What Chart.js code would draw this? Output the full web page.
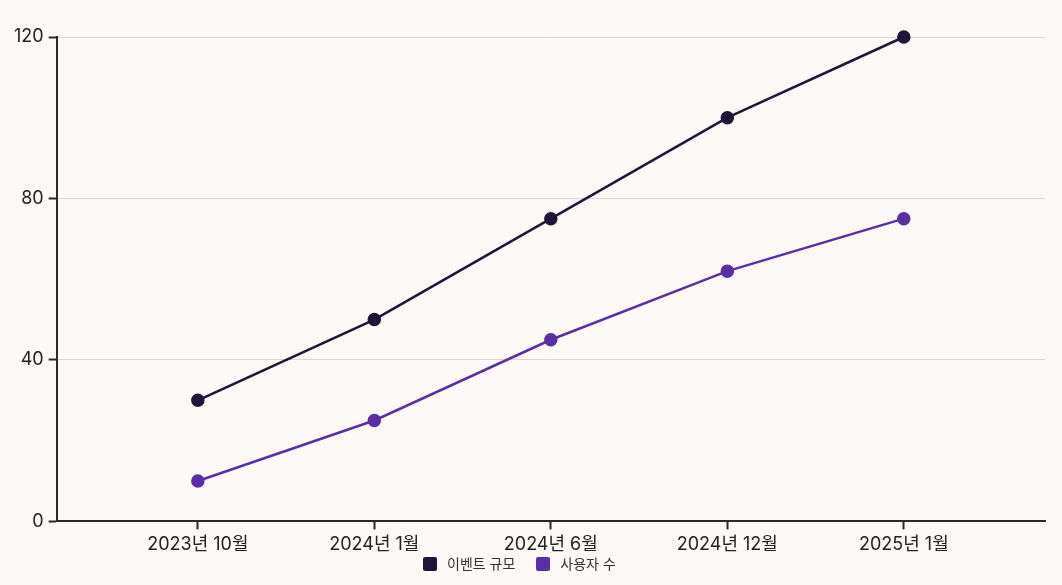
<!DOCTYPE html>
<html>
<head>
<meta charset="utf-8">
<script src="https://cdn.jsdelivr.net/npm/chart.js@4"></script>
<style>
  html, body { margin: 0; padding: 0; background: #fdf9f6; }
  #wrap { position: relative; width: 1062px; height: 585px; }
  #leyenda {
    position: absolute; left: 423px; top: 555px;
    display: flex; gap: 21px; align-items: center;
    font-family: Inter, 'Noto Sans CJK KR', sans-serif; font-size: 14px; color: #333;
  }
  #leyenda .item { display: flex; align-items: center; gap: 10px; line-height: 18px; }
  #leyenda .caja { width: 14px; height: 14px; border-radius: 2px; }
</style>
</head>
<body>
<div id="wrap"><canvas id="grafico"></canvas><div id="leyenda"></div></div>
<script>
const etiquetas = ['2023년 10월', '2024년 1월', '2024년 6월', '2024년 12월', '2025년 1월']
const eventoScale = [30, 50, 75, 100, 120]
const usuarios = [10, 25, 45, 62, 75]
const yTicks = [0, 40, 80, 120]

const fuente = "Inter, 'Noto Sans CJK KR', sans-serif"
const ejeColor = '#2a2a2a'

const toPoints = (arr) => arr.map((v, i) => ({ x: i, y: v }))

const datasets = [
    {
        label: '이벤트 규모',
        data: toPoints(eventoScale),
        borderColor: '#1e1538',
        backgroundColor: '#1e1538',
        borderWidth: 2.5,
        pointRadius: 5.5,
        pointHoverRadius: 5.5,
        clip: false
    },
    {
        label: '사용자 수',
        data: toPoints(usuarios),
        borderColor: '#5a2fa6',
        backgroundColor: '#5a2fa6',
        borderWidth: 2.5,
        pointRadius: 5.5,
        pointHoverRadius: 5.5,
        clip: false
    }
]

const config = {
    type: 'line',
    data: { datasets },
    options: {
        responsive: true,
        maintainAspectRatio: false,
        animation: false,
        layout: { padding: { left: 9, right: 17, top: 37, bottom: 26 } },
        plugins: {
            tooltip: { enabled: false },
            legend: { display: false }
        },
        scales: {
            x: {
                type: 'linear',
                min: -0.8,
                max: 4.8,
                afterBuildTicks: (axis) => {
                    axis.ticks = etiquetas.map((_, i) => ({ value: i }))
                },
                ticks: {
                    color: '#222',
                    font: { family: fuente, size: 18 },
                    padding: 4,
                    maxRotation: 0,
                    callback: (v) => etiquetas[v]
                },
                grid: {
                    color: 'transparent',
                    tickColor: ejeColor,
                    tickLength: 8,
                    tickWidth: 2
                },
                border: { display: true, color: ejeColor, width: 2 }
            },
            y: {
                min: 0,
                max: 120,
                afterBuildTicks: (axis) => {
                    axis.ticks = yTicks.map((v) => ({ value: v }))
                },
                ticks: {
                    color: '#222',
                    font: { family: fuente, size: 18 },
                    padding: 5
                },
                grid: {
                    color: '#dcd6d2',
                    lineWidth: 1,
                    tickColor: ejeColor,
                    tickLength: 8,
                    tickWidth: 2
                },
                border: { display: true, color: ejeColor, width: 2 }
            }
        }
    }
}

const grafico = document.querySelector('#grafico')
const chart = new Chart(grafico, config)

// leyenda en html para controlar los espacios
const leyenda = document.querySelector('#leyenda')
chart.data.datasets.forEach((ds) => {
    const item = document.createElement('div')
    item.className = 'item'
    const caja = document.createElement('span')
    caja.className = 'caja'
    caja.style.background = ds.backgroundColor
    const texto = document.createElement('span')
    texto.textContent = ds.label
    item.appendChild(caja)
    item.appendChild(texto)
    leyenda.appendChild(item)
})
</script>
</body>
</html>
